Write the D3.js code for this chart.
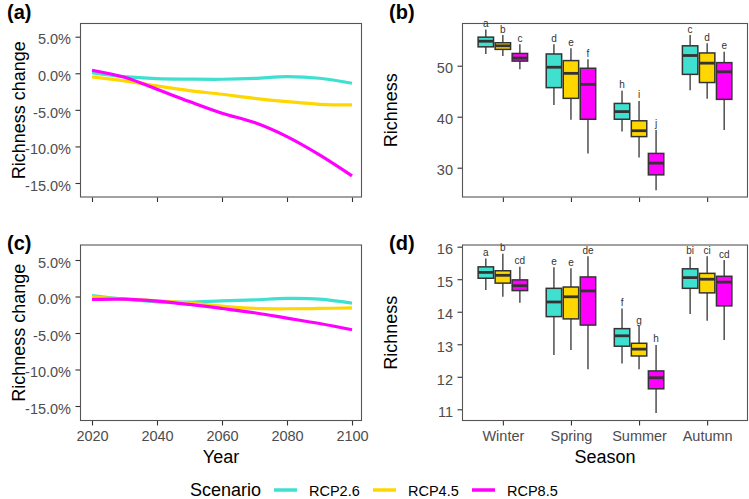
<!DOCTYPE html>
<html><head><meta charset="utf-8">
<script src="https://cdn.jsdelivr.net/npm/d3@7"></script>
<style>
body{margin:0;background:#fff;}
svg{display:block;font-family:"Liberation Sans",Arial,Helvetica,sans-serif;}
</style>
</head><body>
<svg id="chart" width="749" height="499"></svg>
<script>
// ---------------- DATA ----------------
const years = [2020, 2030, 2040, 2050, 2060, 2070, 2080, 2090, 2100];
const scenarios = ["RCP2.6", "RCP4.5", "RCP8.5"];
const seasons = ["Winter", "Spring", "Summer", "Autumn"];
const pctTicks = [5, 0, -5, -10, -15];
const yearTicks = [2020, 2040, 2060, 2080, 2100];

// Panel (a): richness change (%)
const aRCP26 = [0.10, -0.46, -0.73, -0.80, -0.82, -0.70, -0.46, -0.68, -1.37];
const aRCP45 = [-0.50, -1.05, -1.73, -2.37, -2.87, -3.42, -3.87, -4.24, -4.33];
const aRCP85 = [0.41, -0.55, -2.19, -3.87, -5.46, -6.74, -8.66, -11.16, -14.03];
// Panel (c): richness change (%)
const cRCP26 = [0.14, -0.36, -0.73, -0.77, -0.59, -0.45, -0.27, -0.36, -0.91];
const cRCP45 = [-0.05, -0.36, -0.59, -0.91, -1.32, -1.64, -1.68, -1.64, -1.55];
const cRCP85 = [-0.41, -0.36, -0.63, -1.09, -1.64, -2.23, -2.96, -3.70, -4.56];

// Panel (b): per season [whiskerLow, Q1, median, Q3, whiskerHigh]
const bRCP26 = [[52.3, 53.7, 54.8, 55.6, 57.1], [42.3, 45.7, 49.7, 52.3, 54.2], [37.1, 39.5, 41.0, 42.6, 45.1], [45.2, 48.3, 52.0, 53.9, 56.0]];
const bRCP45 = [[51.9, 53.2, 53.9, 54.5, 56.0], [39.4, 43.6, 48.5, 51.0, 53.4], [32.0, 36.1, 37.25, 39.2, 43.1], [43.5, 46.7, 50.5, 52.5, 54.4]];
const bRCP85 = [[49.3, 50.9, 51.5, 52.4, 54.2], [32.8, 39.5, 46.35, 49.5, 51.25], [25.6, 28.6, 30.9, 32.8, 37.4], [37.4, 43.4, 48.8, 50.6, 52.75]];
const bLetters = [["a", "d", "h", "c"], ["b", "e", "i", "d"], ["c", "f", "j", "e"]];
const bTicks = [30, 40, 50];

// Panel (d): per season [whiskerLow, Q1, median, Q3, whiskerHigh]
const dRCP26 = [[14.67, 15.03, 15.21, 15.38, 15.64], [12.67, 13.85, 14.30, 14.72, 15.37], [12.41, 12.94, 13.26, 13.48, 14.10], [13.93, 14.72, 15.05, 15.32, 15.69]];
const dRCP45 = [[14.46, 14.88, 15.12, 15.26, 15.78], [12.82, 13.78, 14.46, 14.76, 15.34], [12.23, 12.64, 12.85, 13.03, 13.56], [13.72, 14.58, 15.00, 15.18, 15.71]];
const dRCP85 = [[14.28, 14.65, 14.80, 14.98, 15.38], [12.23, 13.59, 14.64, 15.07, 15.71], [10.89, 11.63, 11.97, 12.18, 12.98], [13.13, 14.18, 14.91, 15.09, 15.59]];
const dLetters = [["a", "e", "f", "bi"], ["b", "e", "g", "ci"], ["cd", "de", "h", "cd"]];
const dTicks = [11, 12, 13, 14, 15, 16];

// ---------------- STYLE ----------------
const colors = {"RCP2.6": "#40E0D0", "RCP4.5": "#FFD700", "RCP8.5": "#FF00FF"};
const dark = "#333333";
const tickTextColor = "#4D4D4D";
const tickFont = 14.5;
const titleFont = 18;

const svg = d3.select("#chart");

const P = {
  a: {l: 80, r: 362, t: 23, b: 197.5},
  b: {l: 462, r: 748, t: 23, b: 197.5},
  c: {l: 80, r: 362, t: 244.5, b: 421},
  d: {l: 462, r: 748, t: 244.5, b: 421}
};

function styleAxis(g) {
  g.select(".domain").remove();
  g.selectAll(".tick line").attr("stroke", dark).attr("stroke-width", 1.1);
  g.selectAll(".tick text").attr("fill", tickTextColor).style("font-size", tickFont + "px")
    .style("font-family", '"Liberation Sans",Arial,sans-serif');
}

function frame(p) {
  svg.append("rect")
    .attr("x", p.l + 0.5).attr("y", p.t + 0.5)
    .attr("width", p.r - p.l - 1).attr("height", p.b - p.t - 1)
    .attr("fill", "none").attr("stroke", "#555").attr("stroke-width", 1.1);
}

function panelLabel(txt, x, y) {
  svg.append("text").attr("x", x).attr("y", y).text(txt)
    .style("font-size", "20px").style("font-weight", "bold").attr("fill", "#000");
}

function yTitle(txt, x, cy) {
  svg.append("text").attr("transform", `translate(${x},${cy}) rotate(-90)`)
    .attr("text-anchor", "middle").text(txt)
    .style("font-size", titleFont + "px").attr("fill", "#000");
}

// ---------------- LINE PANELS ----------------
function linePanel(p, series, yRange, showXLabels) {
  const x = d3.scaleLinear().domain([2020, 2100]).range([p.l + 12, p.r - 10]);
  const y = d3.scaleLinear().domain([-15, 5]).range(yRange);
  const line = d3.line().x((d, i) => x(years[i])).y(d => y(d)).curve(d3.curveCatmullRom.alpha(0.5));
  series.forEach((s, k) => {
    svg.append("path").attr("d", line(s)).attr("fill", "none")
      .attr("stroke", colors[scenarios[k]]).attr("stroke-width", 3.2)
      .attr("stroke-linecap", "butt");
  });
  frame(p);
  const gy = svg.append("g").attr("transform", `translate(${p.l},0)`)
    .call(d3.axisLeft(y).tickValues(pctTicks).tickSize(4.5).tickPadding(4.5)
      .tickFormat(d => d3.format(".1f")(d).replace("−", "-") + "%"));
  styleAxis(gy);
  gy.selectAll(".tick text").attr("dy", "0.5em");
  const gx = svg.append("g").attr("transform", `translate(0,${p.b})`)
    .call(d3.axisBottom(x).tickValues(yearTicks).tickSize(4.5).tickPadding(5.5)
      .tickFormat(showXLabels ? d3.format("d") : () => ""));
  styleAxis(gx);
}

linePanel(P.a, [aRCP26, aRCP45, aRCP85], [183, 36.7], false);
linePanel(P.c, [cRCP26, cRCP45, cRCP85], [406, 260], true);

// ---------------- BOX PANELS ----------------
function boxPanel(p, groups, letters, ticks, domain, yRange, showXLabels) {
  const x = d3.scalePoint().domain(seasons).range([p.l, p.r]).padding(0.6);
  const y = d3.scaleLinear().domain(domain).range(yRange);
  const dodge = x.step() * 0.25;
  const bw = dodge - 1.6;
  frame(p);
  groups.forEach((grp, j) => {
    grp.forEach((st, i) => {
      const cx = x(seasons[i]) + (j - 1) * dodge;
      const [lo, q1, med, q3, hi] = st;
      const g = svg.append("g");
      g.append("line").attr("x1", cx).attr("x2", cx).attr("y1", y(hi)).attr("y2", y(q3))
        .attr("stroke", dark).attr("stroke-width", 1.3);
      g.append("line").attr("x1", cx).attr("x2", cx).attr("y1", y(q1)).attr("y2", y(lo))
        .attr("stroke", dark).attr("stroke-width", 1.3);
      g.append("rect").attr("x", cx - bw / 2).attr("y", y(q3))
        .attr("width", bw).attr("height", y(q1) - y(q3))
        .attr("fill", colors[scenarios[j]]).attr("stroke", dark).attr("stroke-width", 1.5);
      g.append("line").attr("x1", cx - bw / 2).attr("x2", cx + bw / 2)
        .attr("y1", y(med)).attr("y2", y(med))
        .attr("stroke", dark).attr("stroke-width", 2.8);
      g.append("text").attr("x", cx).attr("y", y(hi) - 2.5)
        .attr("text-anchor", "middle").text(letters[j][i])
        .style("font-size", "10px").attr("fill", dark);
    });
  });
  const gy = svg.append("g").attr("transform", `translate(${p.l},0)`)
    .call(d3.axisLeft(y).tickValues(ticks).tickSize(4.5).tickPadding(4.5).tickFormat(d3.format("d")));
  styleAxis(gy);
  gy.selectAll(".tick text").attr("dy", "0.5em");
  const gx = svg.append("g").attr("transform", `translate(0,${p.b})`)
    .call(d3.axisBottom(x).tickSize(4.5).tickPadding(5.5)
      .tickFormat(showXLabels ? (d => d) : () => ""));
  styleAxis(gx);
}

boxPanel(P.b, [bRCP26, bRCP45, bRCP85], bLetters, bTicks, [30, 50], [167.7, 65.7], false);
boxPanel(P.d, [dRCP26, dRCP45, dRCP85], dLetters, dTicks, [11, 16], [409.3, 246.7], true);

// ---------------- TITLES ----------------
panelLabel("(a)", 7, 19);
panelLabel("(b)", 389, 19);
panelLabel("(c)", 7, 250);
panelLabel("(d)", 389, 250);

yTitle("Richness change", 25, (P.a.t + P.a.b) / 2);
yTitle("Richness change", 25, (P.c.t + P.c.b) / 2);
yTitle("Richness", 397, (P.b.t + P.b.b) / 2);
yTitle("Richness", 397, (P.d.t + P.d.b) / 2);

svg.append("text").attr("x", (P.c.l + P.c.r) / 2).attr("y", 463).attr("text-anchor", "middle")
  .text("Year").style("font-size", titleFont + "px").attr("fill", "#000");
svg.append("text").attr("x", (P.d.l + P.d.r) / 2).attr("y", 463).attr("text-anchor", "middle")
  .text("Season").style("font-size", titleFont + "px").attr("fill", "#000");

// ---------------- LEGEND ----------------
const legY = 490;
svg.append("text").attr("x", 190).attr("y", legY + 6).text("Scenario")
  .style("font-size", titleFont + "px").attr("fill", "#000");
const legX = [274, 373, 472];
scenarios.forEach((s, k) => {
  svg.append("line").attr("x1", legX[k]).attr("x2", legX[k] + 23)
    .attr("y1", legY).attr("y2", legY)
    .attr("stroke", colors[s]).attr("stroke-width", 3.5);
  svg.append("text").attr("x", legX[k] + 35).attr("y", legY + 5.5).text(s)
    .style("font-size", tickFont + "px").attr("fill", "#000");
});
</script>
</body></html>
